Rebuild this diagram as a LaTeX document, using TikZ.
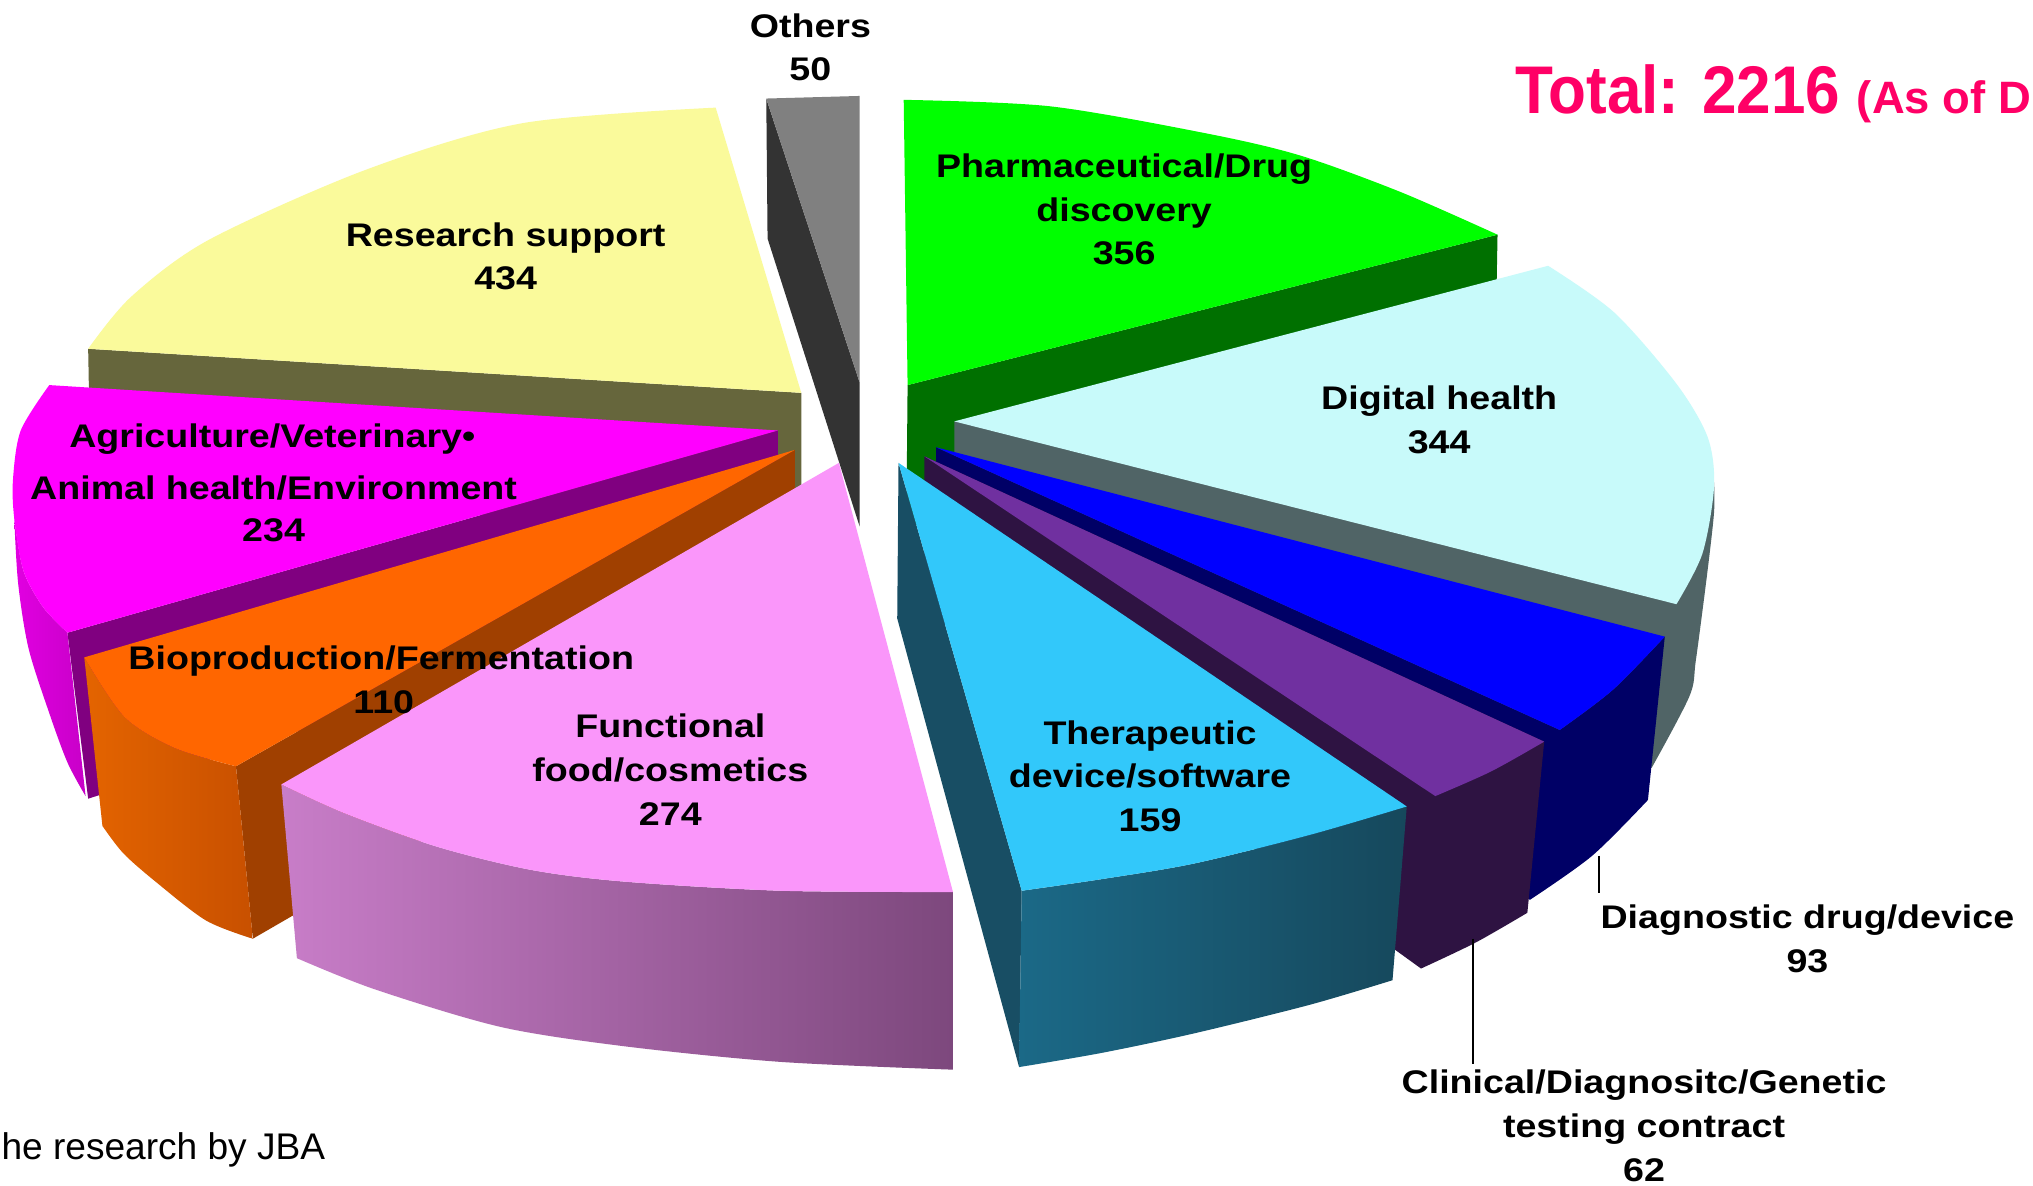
\documentclass[tikz,border=0pt]{standalone}
\usepackage{fontspec}
\usepackage{graphicx}
\setmainfont{Liberation Sans}
\definecolor{othTop}{RGB}{128,128,128}
\definecolor{othSide}{RGB}{51,51,51}
\definecolor{resTop}{RGB}{250,250,155}
\definecolor{resSide}{RGB}{102,102,60}
\definecolor{phaTop}{RGB}{0,255,0}
\definecolor{phaSide}{RGB}{0,112,0}
\definecolor{digTop}{RGB}{200,250,250}
\definecolor{digSide}{RGB}{80,100,102}
\definecolor{agrTop}{RGB}{255,0,255}
\definecolor{agrSide}{RGB}{128,0,128}
\definecolor{agrWallL}{RGB}{225,0,225}
\definecolor{agrWallR}{RGB}{200,0,200}
\definecolor{bioTop}{RGB}{255,102,0}
\definecolor{bioSide}{RGB}{160,64,0}
\definecolor{bioWallL}{RGB}{228,100,0}
\definecolor{bioWallR}{RGB}{200,80,0}
\definecolor{diaTop}{RGB}{0,0,255}
\definecolor{diaSide}{RGB}{0,0,102}
\definecolor{cliTop}{RGB}{112,48,160}
\definecolor{cliSide}{RGB}{46,19,66}
\definecolor{theTop}{RGB}{50,200,250}
\definecolor{theSide}{RGB}{24,78,100}
\definecolor{theWallL}{RGB}{27,105,135}
\definecolor{theWallR}{RGB}{22,72,92}
\definecolor{funTop}{RGB}{250,150,250}
\definecolor{funWallL}{RGB}{200,125,200}
\definecolor{funWallR}{RGB}{125,72,125}
\definecolor{titlered}{RGB}{255,0,102}
\newcommand{\vsq}[1]{\scalebox{1}[0.87]{#1}}
\begin{document}
\begin{tikzpicture}[x=1pt,y=-1pt,
  lab/.style={font=\bfseries\fontsize{29}{34}\selectfont, inner sep=0pt, anchor=base},
  leader/.style={draw=black, line width=1.3pt}]
\useasboundingbox (0,0) rectangle (1568,914);
\fill[white] (0,0) rectangle (1568,914);

% Research support
\fill[resSide] (68,269) -- (618,303) -- (618,413) -- (70,378) -- cycle;
\fill[resTop] (618,303) -- plot[smooth] coordinates {(552,83) (403,95) (282,131) (161,185) (101,229) (68,269)} -- cycle;

% Others
\fill[othSide] (591,76) -- (663,295) -- (663,406) -- (592,184) -- cycle;
\fill[othTop] (591,76) -- (663,74) -- (663,295) -- cycle;

% Pharmaceutical
\fill[phaSide] (700,297) -- (1155,181) -- (1153,291) -- (699,407) -- cycle;
\fill[phaTop] (700,297) -- plot[smooth] coordinates {(697,77) (810,82) (931,103) (1003,120) (1080,148) (1155,181)} -- cycle;

% Digital health
\fill[digSide] (736,325) -- (1300,440) -- (1322,372) -- plot[smooth] coordinates {(1322,372) (1322,395) (1317,440) (1308,509) (1303,537) (1274,592)} -- (1250,600) -- (736,440) -- cycle;
\fill[digTop] (736,325) -- plot[smooth] coordinates {(1194,205) (1245,241) (1293,296) (1317,337) (1322,375) (1313,427) (1293,466)} -- cycle;

% Agriculture
\fill[agrSide] (52,488) -- (600,332) -- (600,445) -- (68,616) -- cycle;
\shade[left color=agrWallL, right color=agrWallR] plot[smooth] coordinates {(52,488) (33,468) (18,440) (11,400)} -- plot[smooth] coordinates {(11,400) (14,450) (22,500) (38,550) (52,588) (66,614)} -- cycle;
\fill[agrTop] (600,332) -- (38,297) -- plot[smooth] coordinates {(38,297) (16,332) (10,370) (11,400) (18,440) (33,468) (52,488)} -- cycle;

% Bioproduction
\fill[bioSide] (182,591) -- (613,347) -- (613,482) -- (195,724) -- cycle;
\shade[left color=bioWallL, right color=bioWallR] plot[smooth] coordinates {(65,507) (96,553) (135,577) (182,591)} -- (195,724) -- plot[smooth] coordinates {(195,724) (159,710) (120,680) (95,658) (79,637)} -- cycle;
\fill[bioTop] (613,347) -- (65,507) -- plot[smooth] coordinates {(65,507) (96,553) (135,577) (182,591)} -- cycle;

% Functional food
\shade[left color=funWallL, right color=funWallR] plot[smooth] coordinates {(217,605) (265,627) (337,653) (410,671) (482,680) (602,687) (735,688)} -- (735,825) -- plot[smooth] coordinates {(735,825) (602,819) (482,807) (386,792) (289,763) (229,739)} -- cycle;
\fill[funTop] (647,357) -- (217,605) -- plot[smooth] coordinates {(217,605) (265,627) (337,653) (410,671) (482,680) (602,687) (735,688)} -- cycle;

% Diagnostic
\fill[diaSide] (722,345) -- (1203,563) -- plot[smooth] coordinates {(1203,563) (1244,532) (1284,491)} -- (1271,617) -- plot[smooth] coordinates {(1271,617) (1228,660) (1180,694)} -- (722,460) -- cycle;
\fill[diaTop] (722,345) -- (1284,491) -- plot[smooth] coordinates {(1284,491) (1244,532) (1203,563)} -- cycle;

% Clinical
\fill[cliSide] (713,352) -- (1191,572) -- (1178,704) -- plot[smooth] coordinates {(1178,704) (1138,727) (1096,747)} -- (713,470) -- cycle;
\fill[cliTop] (713,352) -- (1191,572) -- plot[smooth] coordinates {(1191,572) (1150,595) (1107,614)} -- cycle;

% Therapeutic
\fill[theSide] (693,357) -- (788,687) -- (786,823) -- (692,477) -- cycle;
\shade[left color=theWallL, right color=theWallR] plot[smooth] coordinates {(788,687) (850,678) (921,666) (1010,644) (1085,622)} -- (1074,756) -- plot[smooth] coordinates {(1074,756) (1010,775) (921,797) (850,812) (786,823)} -- cycle;
\fill[theTop] (693,357) -- (1085,622) -- plot[smooth] coordinates {(1085,622) (1010,644) (921,666) (850,678) (788,687)} -- cycle;

% Labels
\node[lab] (oth1) at (625,29) {\vsq{Others}};
\node[lab] (oth2) at (625,62) {\vsq{50}};
\node[lab] (pha1) at (867,137) {\vsq{Pharmaceutical/Drug}};
\node[lab] (pha2) at (867,170.5) {\vsq{discovery}};
\node[lab] (pha3) at (867,204) {\vsq{356}};
\node[lab] (res1) at (390,190) {\vsq{Research support}};
\node[lab] (res2) at (390,223) {\vsq{434}};
\node[lab] (dig1) at (1110,315.7) {\vsq{Digital health}};
\node[lab] (dig2) at (1110,349.6) {\vsq{344}};
\node[lab] (agr1) at (210,345) {\vsq{Agriculture/Veterinary•}};
\node[lab] (agr2) at (211,385) {\vsq{Animal health/Environment}};
\node[lab] (agr3) at (211,418) {\vsq{234}};
\node[lab] (bio1) at (294,516) {\vsq{Bioproduction/Fermentation}};
\node[lab] (bio2) at (296,550) {\vsq{110}};
\node[lab] (fun1) at (517,569) {\vsq{Functional}};
\node[lab] (fun2) at (517,603) {\vsq{food/cosmetics}};
\node[lab] (fun3) at (517,637) {\vsq{274}};
\node[lab] (the1) at (887,574) {\vsq{Therapeutic}};
\node[lab] (the2) at (887,607) {\vsq{device/software}};
\node[lab] (the3) at (887,641) {\vsq{159}};
\node[lab] (dia1) at (1394,716) {\vsq{Diagnostic drug/device}};
\node[lab] (dia2) at (1394,750) {\vsq{93}};
\node[lab] (cli1) at (1268,843.2) {\vsq{Clinical/Diagnositc/Genetic}};
\node[lab] (cli2) at (1268,877.2) {\vsq{testing contract}};
\node[lab] (cli3) at (1268,911.2) {\vsq{62}};

% Leader lines
\coordinate (diaTip) at (1233,660);
\coordinate (diaEnd) at (1233,689);
\draw[leader] (diaTip) -- (diaEnd);
\coordinate (cliTip) at (1136,724);
\coordinate (cliEnd) at (1136,821);
\draw[leader] (cliTip) -- (cliEnd);

% Title and source
\node[anchor=base west, inner sep=0pt, text=titlered, font=\bfseries\fontsize{52}{52}\selectfont] (title) at (1168.5,87.4)
  {\scalebox{0.92}[1]{Total: 2216}};
\node[anchor=base west, inner sep=0pt, text=titlered, font=\bfseries\fontsize{35}{35}\selectfont] (asof) at (1432,87.4)
  {(As of D};
\node[anchor=base west, inner sep=0pt, font=\fontsize{28.6}{30}\selectfont] (src) at (1,894.6) {he research by JBA};
\end{tikzpicture}
\end{document}
